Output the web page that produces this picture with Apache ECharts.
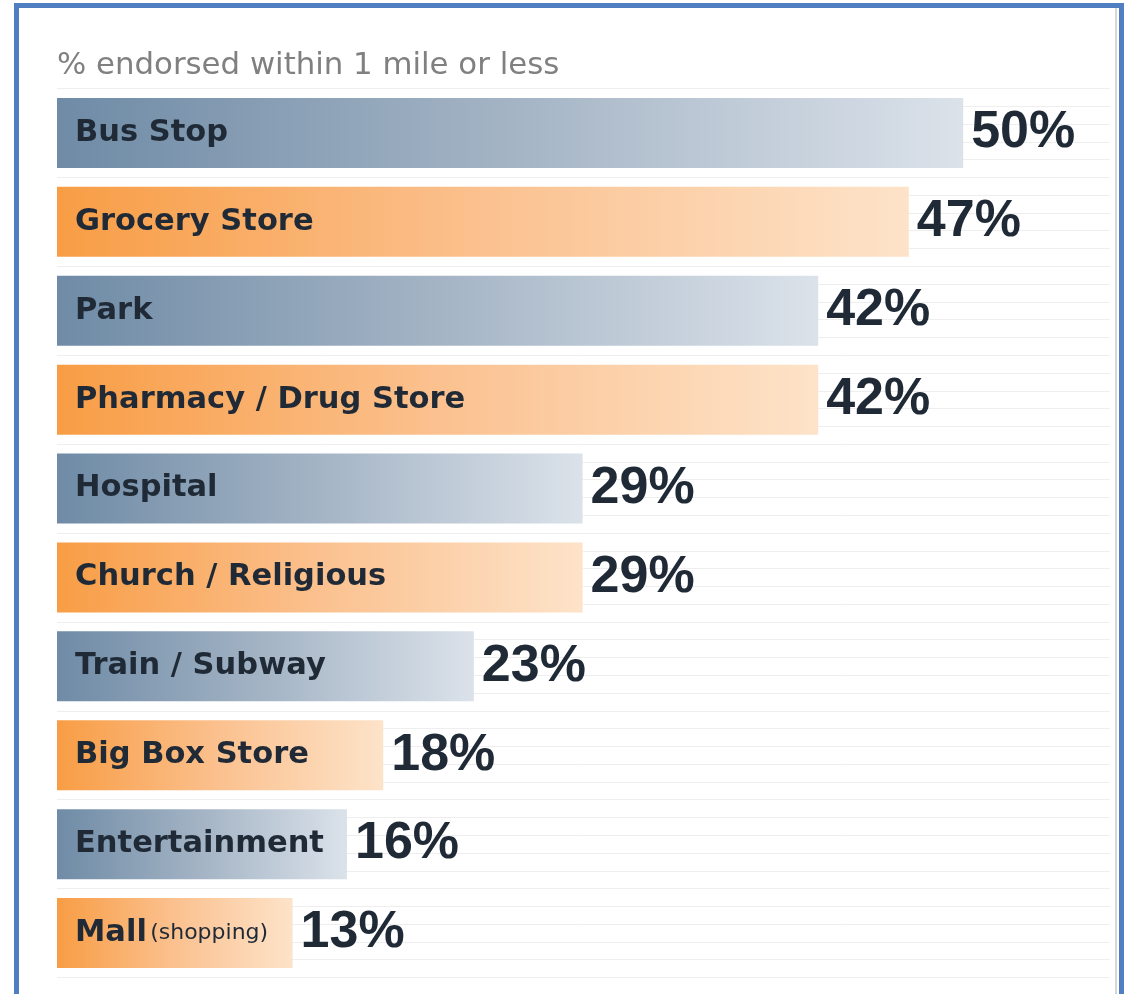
<!DOCTYPE html>
<html>
<head>
<meta charset="utf-8">
<script src="https://cdn.jsdelivr.net/npm/echarts@6/dist/echarts.min.js"></script>
<style>
html,body{margin:0;padding:0;background:#fff;}
#c{width:1129px;height:994px;}
</style>
</head>
<body>
<div id="c"></div>
<script>
const titleText = '% endorsed within 1 mile or less';
const categories = ['Bus Stop','Grocery Store','Park','Pharmacy / Drug Store','Hospital','Church / Religious','Train / Subway','Big Box Store','Entertainment','Mall'];
const subNotes = ['','','','','','','','','','(shopping)'];
const values = [50,47,42,42,29,29,23,18,16,13];
const palette = ['blue','orange','blue','orange','blue','orange','blue','orange','blue','orange'];

const grads = {
  blue: new echarts.graphic.LinearGradient(0,0,1,0,[{offset:0,color:'#6f8ba6'},{offset:0.5,color:'#a4b4c5'},{offset:1,color:'#dbe2ea'}]),
  orange: new echarts.graphic.LinearGradient(0,0,1,0,[{offset:0,color:'#f89d45'},{offset:0.5,color:'#fbc18f'},{offset:1,color:'#fde3c9'}])
};

const chart = echarts.init(document.getElementById('c'), null, {renderer:'canvas'});
const option = {
  animation:false,
  backgroundColor:'#fff',
  title:{
    text:titleText, left:52, top:45,
    textStyle:{fontFamily:'DejaVu Sans', fontWeight:'normal', fontSize:30.8, color:'#808080'}
  },
  graphic:[
    {type:'rect', shape:{x:16.5,y:5.5,width:1105,height:1100}, style:{fill:'none', stroke:'#4f7fc0', lineWidth:5}, z:100},
    {type:'line', shape:{x1:1116,y1:8,x2:1116,y2:994}, style:{stroke:'#d6d6d6', lineWidth:2}, z:99}
  ],
  grid:{left:57, right:19, top:88.5, height:889, containLabel:false},
  xAxis:{type:'value', min:0, max:58.1, show:false},
  yAxis:[
    {type:'category', data:categories, inverse:true, show:false},
    {type:'value', min:0, max:50, interval:1, position:'right',
     axisLine:{show:false}, axisTick:{show:false}, axisLabel:{show:false},
     splitLine:{show:true, lineStyle:{color:'#eeeeee', width:1}}}
  ],
  series:[
    {
      type:'bar', yAxisIndex:0, barWidth:70, z:3,
      data: values.map((v,i)=>({value:v, itemStyle:{color:grads[palette[i]]}})),
      label:{
        show:true, position:'insideLeft', distance:18,
        formatter:(p)=> subNotes[p.dataIndex] ? '{b|'+p.name+'} {s|'+subNotes[p.dataIndex]+'}' : '{b|'+p.name+'}',
        rich:{
          b:{fontFamily:'DejaVu Sans', fontWeight:'bold', fontSize:30.5, color:'#1f2a36'},
          s:{fontFamily:'DejaVu Sans', fontWeight:'normal', fontSize:22, color:'#1f2a36'}
        }
      }
    },
    {
      type:'bar', yAxisIndex:0, barWidth:70, barGap:'-100%', z:4,
      data: values,
      itemStyle:{color:'rgba(0,0,0,0)'},
      label:{
        show:true, position:'right', distance:8,
        formatter:'{c}%',
        fontFamily:'Liberation Sans', fontWeight:'bold', fontSize:52, color:'#1f2a36'
      }
    }
  ]
};
chart.setOption(option);
</script>
</body>
</html>
